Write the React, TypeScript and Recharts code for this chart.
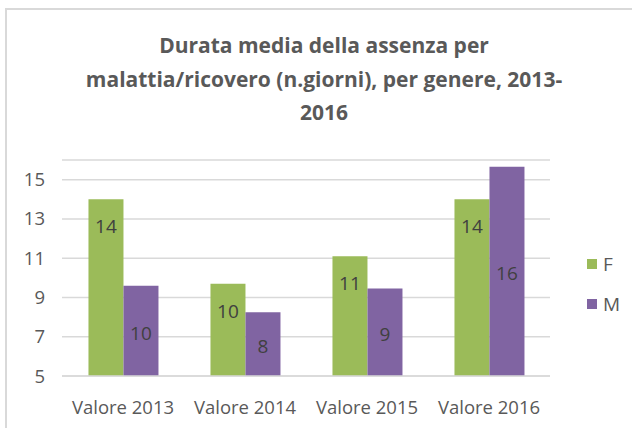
import React from 'react';
import { BarChart, Bar, XAxis, YAxis, CartesianGrid, LabelList } from 'recharts';

const categories = ['Valore 2013', 'Valore 2014', 'Valore 2015', 'Valore 2016'];
const femaleValues = [14.0, 9.7, 11.1, 14.0];
const maleValues = [9.6, 8.25, 9.45, 15.65];
const yTicks = [5, 7, 9, 11, 13, 15];
const seriesNames = ['F', 'M'];
const seriesColors = ['#9BBB59', '#8064A2'];
const titleLines = [
  'Durata media della assenza per',
  'malattia/ricovero (n.giorni), per genere, 2013-',
  '2016',
];

const data = categories.map((c, i) => ({ name: c, F: femaleValues[i], M: maleValues[i] }));

const FONT = '"Open Sans", "Liberation Sans", sans-serif';
const TEXT = '#595959';

const makeLabel = (mode: 'top' | 'center') => (props: any) => {
  const { x, y, width, height, value } = props;
  const cx = Number(x) + Number(width) / 2;
  const cy = mode === 'top' ? Number(y) + 27 : Number(y) + Number(height) / 2 + 2;
  return (
    <text
      x={cx}
      y={cy}
      textAnchor="middle"
      dominantBaseline="central"
      fill="#404040"
      fontSize={19}
      fontFamily={FONT}
    >
      {Math.round(Number(value))}
    </text>
  );
};

export default function App() {
  return (
    <div style={{ position: 'absolute', left: 0, top: 0, width: 632, height: 428, background: '#fff', overflow: 'hidden' }}>
      <div
        style={{
          position: 'absolute',
          left: 5,
          top: 8,
          width: 640,
          height: 440,
          borderTop: '2px solid #d9d9d9',
          borderLeft: '2px solid #d9d9d9',
        }}
      />
      {titleLines.map((t, i) => (
        <div
          key={i}
          style={{
            position: 'absolute',
            left: 0,
            width: 648,
            top: 30 + i * 33.5,
            lineHeight: '30px',
            textAlign: 'center',
            fontFamily: FONT,
            fontWeight: 700,
            fontSize: 21,
            color: TEXT,
          }}
        >
          {t}
        </div>
      ))}
      <div style={{ position: 'absolute', left: 0, top: 0 }}>
        <BarChart
          width={632}
          height={428}
          data={data}
          margin={{ top: 160, right: 82, left: 0, bottom: 12 }}
          barGap={0}
          barCategoryGap="21.7%"
        >
          <CartesianGrid vertical={false} stroke="#d9d9d9" strokeWidth={1.5} />
          <XAxis
            dataKey="name"
            height={40}
            tickLine={false}
            axisLine={{ stroke: '#d9d9d9', strokeWidth: 1.5 }}
            tickMargin={19}
            tick={{ fill: TEXT, fontSize: 18.5, fontFamily: FONT }}
            interval={0}
          />
          <YAxis
            width={62}
            domain={[5, 16]}
            ticks={yTicks}
            interval={0}
            axisLine={false}
            tickLine={false}
            tickMargin={11}
            tick={{ fill: TEXT, fontSize: 18.5, fontFamily: FONT }}
          />
          <Bar dataKey="F" name={seriesNames[0]} fill={seriesColors[0]} isAnimationActive={false}>
            <LabelList dataKey="F" content={makeLabel('top')} />
          </Bar>
          <Bar dataKey="M" name={seriesNames[1]} fill={seriesColors[1]} isAnimationActive={false}>
            <LabelList dataKey="M" content={makeLabel('center')} />
          </Bar>
        </BarChart>
      </div>
      <div style={{ position: 'absolute', left: 587, top: 244, fontFamily: FONT }}>
        {seriesNames.map((n, i) => (
          <div key={n} style={{ display: 'flex', alignItems: 'center', height: 40 }}>
            <div style={{ width: 10, height: 10, background: seriesColors[i], marginRight: 6 }} />
            <span style={{ fontSize: 19, color: TEXT }}>{n}</span>
          </div>
        ))}
      </div>
    </div>
  );
}
